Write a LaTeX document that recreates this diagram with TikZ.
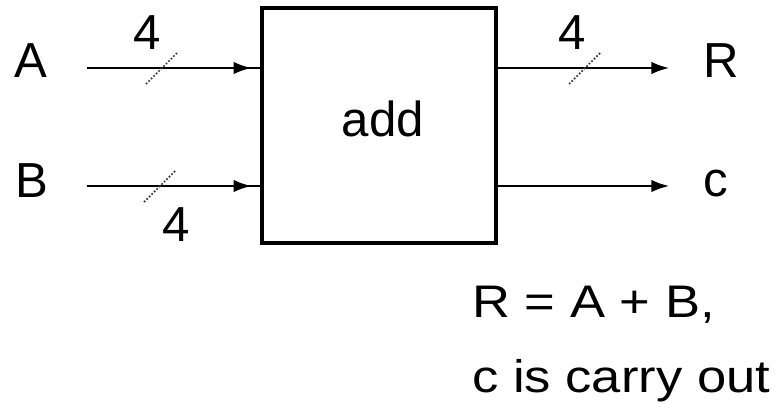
\documentclass[tikz,border=0pt]{standalone}
\usepackage{fontspec}
\setmainfont{Liberation Sans}
\newfontfamily\notefont[FakeStretch=1.15]{Liberation Sans}
\usetikzlibrary{arrows.meta,calc,decorations.markings}
\tikzset{
  wire/.style     = {line width=1pt},
  inwire/.style   = {wire, postaction={decorate},
                     decoration={markings, mark=at position -0.18cm with
                       {\arrow{Latex[length=10pt,width=7pt]}}}},
  outwire/.style  = {wire, -{Latex[length=10pt,width=7pt]}},
  busmark/.style  = {densely dotted, line width=1pt, black!75},
  pinlab/.style   = {font=\fontsize{28}{30}\selectfont, inner sep=0pt},
  blockbox/.style = {draw, line width=2pt, minimum width=4.68cm,
                     minimum height=4.7cm, inner sep=0pt},
  notetext/.style = {font=\notefont\fontsize{26}{28}\selectfont, inner sep=0pt,
                     anchor=base west},
}
\begin{document}
\begin{tikzpicture}[x=0.02cm, y=-0.02cm]
\useasboundingbox (0, 0) rectangle (777, 403);
\node[blockbox] (adder) at (379, 125.5) {};
\node[pinlab] (addtxt) at (383, 118.5) {add};
\node[pinlab] (lblA) at (31, 61) {A};
\node[pinlab] (lblB) at (32, 181) {B};
\node[pinlab] (lblR) at (721, 61) {R};
\node[pinlab] (lblc) at (716, 183) {c};
\coordinate (inA) at (87, 68);
\coordinate (inB) at (87, 186);
\coordinate (outR) at (669, 68);
\coordinate (outc) at (669, 186);
\draw[inwire] (inA) -- (inA -| adder.west);
\draw[inwire] (inB) -- (inB -| adder.west);
\draw[outwire] (outR -| adder.east) -- (outR);
\draw[outwire] (outc -| adder.east) -- (outc);
\draw[busmark] (162, 68) +(-16, 16) -- +(16, -16);
\draw[busmark] (160, 186) +(-16, 16) -- +(16, -16);
\draw[busmark] (585, 68) +(-16, 16) -- +(16, -16);
\node[pinlab] (wA) at (147, 33) {4};
\node[pinlab] (wB) at (176, 225) {4};
\node[pinlab] (wR) at (572, 33) {4};
\node[notetext] (eqn) at (472, 317) {R = A + B,};
\node[notetext] (carry) at (472, 392) {c is carry out};
\end{tikzpicture}
\end{document}
